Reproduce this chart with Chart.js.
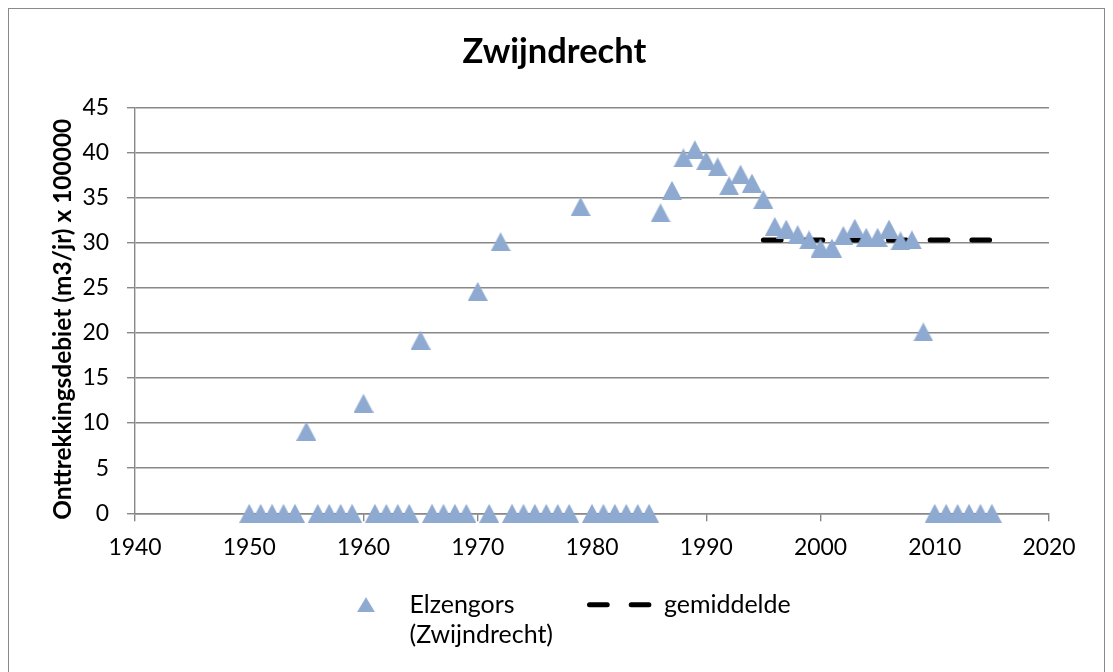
<!DOCTYPE html>
<html>
<head>
<meta charset="utf-8">
<script src="https://cdn.jsdelivr.net/npm/chart.js@4/dist/chart.umd.min.js"></script>
<style>
html,body{margin:0;padding:0;background:#fff;}
#wrap{position:relative;width:1113px;height:672px;overflow:hidden;}
#c{position:absolute;left:0;top:0;}
#frame{position:absolute;left:8px;top:8px;width:1097px;height:720px;border:1.4px solid #8a8a8a;box-sizing:border-box;pointer-events:none;}
</style>
</head>
<body>
<div id="wrap"><canvas id="c" width="1113" height="672"></canvas><div id="frame"></div></div>
<script>
// ---------- data ----------
const years = [1950,1951,1952,1953,1954,1955,1956,1957,1958,1959,1960,1961,1962,1963,1964,1965,1966,1967,1968,1969,
  1970,1971,1972,1973,1974,1975,1976,1977,1978,1979,1980,1981,1982,1983,1984,1985,1986,1987,1988,1989,
  1990,1991,1992,1993,1994,1995,1996,1997,1998,1999,2000,2001,2002,2003,2004,2005,2006,2007,2008,2009,
  2010,2011,2012,2013,2014,2015];
const debiet = [0,0,0,0,0,9.1,0,0,0,0,12.2,0,0,0,0,19.2,0,0,0,0,
  24.6,0,30.1,0,0,0,0,0,0,34.0,0,0,0,0,0,0,33.3,35.8,39.4,40.3,
  39.1,38.4,36.3,37.6,36.6,34.8,31.8,31.5,30.9,30.3,29.4,29.4,30.8,31.6,30.6,30.6,31.5,30.2,30.3,20.1,
  0,0,0,0,0,0];
const meanYears = [1995, 2015];
const meanValues = [30.3, 30.3];
const xTickValues = [1940,1950,1960,1970,1980,1990,2000,2010,2020];
const yTickValues = [0,5,10,15,20,25,30,35,40,45];
const titleText = 'Zwijndrecht';
const yTitleText = 'Onttrekkingsdebiet (m3/jr) x 100000';
const seriesName = ['Elzengors', '(Zwijndrecht)'];
const meanName = 'gemiddelde';

// ---------- style ----------
const TRI = '#8FAAD1';
const GRID = '#888888';
const FONT = 'Lato';

const mc = document.createElement('canvas').getContext('2d');
function metr(text, weight, size) {
  mc.font = weight + ' ' + size + 'px ' + FONT;
  mc.textBaseline = 'middle';
  mc.textAlign = 'left';
  return mc.measureText(text);
}
function inkW(text, weight, size) {
  const m = metr(text, weight, size);
  return m.actualBoundingBoxLeft + m.actualBoundingBoxRight;
}
function fit(text, weight, target) { return 100 * target / inkW(text, weight, 100); }
function adv(text, weight, size) { return metr(text, weight, size).width; }

const titleFs = fit(titleText, 'bold', 183);
const tickFs = fit('1940', 'normal', 50.7);
const legFs = fit(seriesName[1], 'normal', 141.7);
const yTitleFs = fit(yTitleText, 'bold', 400);

const AREA_L = 135, AREA_R = 1049, AREA_T = 107.3, AREA_B = 513.3;
const PAD_L = 20;

// legend geometry
const BOXW = 62;
const X1 = 335, X2 = 589.5;
const tw1 = adv(seriesName[1], 'normal', legFs);
const tw2 = adv(meanName, 'normal', legFs);
const LP = X2 - X1 - (BOXW + legFs / 2 + tw1);
const W = 2 * (BOXW + legFs / 2) + tw1 + tw2 + 2 * LP;
const RSUM = 2 * X1 - LP + W;
const R_EDGE = RSUM - PAD_L;
const W_RIGHT = Math.max(0, R_EDGE - AREA_R);
const legMid = 612.7 - metr('E', 'normal', legFs).actualBoundingBoxDescent;
const legTop = legMid - LP - legFs / 2;
const legH = legFs + LP + 10;
const PAD_B = 672 - legH - legTop;
const X_H = legTop - AREA_B;

// title: pick trailing spaces so the ink centre lands at 556.5
const tLH = titleFs * 1.2;
const tMid = 63.3 - metr('Z', 'bold', titleFs).actualBoundingBoxDescent;
const tPadTop = tMid - tLH / 2;
const tPadBot = AREA_T - tPadTop - tLH;
let titleFull = titleText, bestErr = Infinity;
for (let n = 0; n < 12; n++) {
  const s = titleText + ' '.repeat(n);
  const m = metr(s, 'bold', titleFs);
  const inkC = RSUM / 2 - m.width / 2 + (m.actualBoundingBoxRight - m.actualBoundingBoxLeft) / 2;
  const err = Math.abs(inkC - 556.5);
  if (err < bestErr) { bestErr = err; titleFull = s; }
}

// x ticks
const xLH = tickFs * 1.2;
const xPad = 555 - metr('1940', 'normal', tickFs).actualBoundingBoxDescent - AREA_B - 8 - xLH / 2;

// y title
const yLH = yTitleFs * 1.2;
const spW = adv(' ', 'bold', yTitleFs);
const yTitleFull = yTitleText + ' '.repeat(Math.max(0, Math.round(16 / spW)));
const ym = metr(yTitleText, 'bold', yTitleFs);
const yOff = (ym.actualBoundingBoxDescent - ym.actualBoundingBoxAscent) / 2;
const yTPad = 62.5 - yOff - PAD_L - yLH / 2;

function tri(w, h, color) {
  const c = document.createElement('canvas');
  c.width = w; c.height = h;
  const g = c.getContext('2d');
  g.fillStyle = color;
  g.beginPath();
  g.moveTo(w / 2, 0);
  g.lineTo(w, h);
  g.lineTo(0, h);
  g.closePath();
  g.fill();
  return c;
}
const plotTri = tri(20, 19, TRI);
const legTri = tri(18, 15, TRI);

const legText1 = seriesName.slice();
legText1.toString = () => seriesName[1];

Chart.defaults.font.family = FONT;

const legendRoom = {
  id: 'legendRoom',
  afterLayout(chart) {
    const lg = chart.legend;
    if (lg) { lg.bottom = chart.height; lg.height = lg.bottom - lg.top; }
  }
};

new Chart(document.getElementById('c'), {
  type: 'scatter',
  plugins: [legendRoom],
  data: {
    datasets: [
      {
        label: seriesName.join(' '),
        data: years.map((x, i) => ({x: x, y: debiet[i]})),
        pointStyle: plotTri,
        pointRadius: 10,
        pointHoverRadius: 10,
        pointBorderWidth: 0,
        backgroundColor: TRI,
        borderColor: TRI,
        showLine: false,
        clip: false
      },
      {
        label: meanName,
        data: meanYears.map((x, i) => ({x: x, y: meanValues[i]})),
        showLine: true,
        borderColor: '#000',
        backgroundColor: '#000',
        borderWidth: 5,
        borderDash: [17.7, 24],
        borderCapStyle: 'round',
        pointRadius: 0,
        pointHoverRadius: 0,
        clip: false
      }
    ]
  },
  options: {
    responsive: false,
    animation: false,
    devicePixelRatio: 1,
    events: [],
    layout: { padding: { left: PAD_L, right: 1113 - R_EDGE, top: 0, bottom: PAD_B } },
    plugins: {
      tooltip: { enabled: false },
      title: {
        display: true,
        text: titleFull,
        color: '#000',
        font: { family: FONT, size: titleFs, weight: 'bold' },
        padding: { top: tPadTop, bottom: tPadBot }
      },
      legend: {
        position: 'bottom',
        labels: {
          usePointStyle: true,
          pointStyleWidth: BOXW,
          color: '#000',
          font: { family: FONT, size: legFs },
          padding: LP,
          generateLabels(chart) {
            const items = Chart.defaults.plugins.legend.labels.generateLabels(chart);
            items[0].text = legText1;
            items[0].pointStyle = legTri;
            items[1].text = meanName;
            items[1].pointStyle = 'line';
            items[1].lineWidth = 5;
            items[1].lineDash = [17.7, 24];
            items[1].lineCap = 'round';
            items[1].strokeStyle = '#000';
            return items;
          }
        }
      }
    },
    scales: {
      x: {
        type: 'linear',
        min: xTickValues[0],
        max: xTickValues[xTickValues.length - 1],
        afterBuildTicks(s) { s.ticks = xTickValues.map(v => ({ value: v })); },
        afterFit(s) { s.height = X_H; },
        grid: { drawOnChartArea: false, drawTicks: true, tickLength: 8, color: GRID, lineWidth: 1.4 },
        border: { display: true, color: GRID, width: 1.4 },
        ticks: {
          color: '#000',
          font: { family: FONT, size: tickFs },
          padding: xPad,
          maxRotation: 0,
          autoSkip: false,
          callback: v => String(v)
        }
      },
      y: {
        type: 'linear',
        position: 'left',
        min: yTickValues[0],
        max: yTickValues[yTickValues.length - 1],
        afterBuildTicks(s) { s.ticks = yTickValues.map(v => ({ value: v })); },
        afterFit(s) { s.width = AREA_L - PAD_L; },
        grid: { drawOnChartArea: true, drawTicks: true, tickLength: 8, color: GRID, lineWidth: 1.4 },
        border: { display: true, color: GRID, width: 1.4 },
        ticks: {
          color: '#000',
          font: { family: FONT, size: tickFs },
          padding: 18,
          autoSkip: false,
          callback: v => String(v)
        },
        title: {
          display: true,
          text: yTitleFull,
          color: '#000',
          font: { family: FONT, size: yTitleFs, weight: 'bold' },
          padding: { top: yTPad, bottom: 0 }
        }
      },
      yR: {
        type: 'linear',
        position: 'right',
        display: true,
        afterFit(s) { s.width = W_RIGHT; },
        grid: { display: false, drawTicks: false },
        border: { display: false },
        ticks: { display: false },
        title: { display: false }
      }
    }
  }
});
</script>
</body>
</html>
